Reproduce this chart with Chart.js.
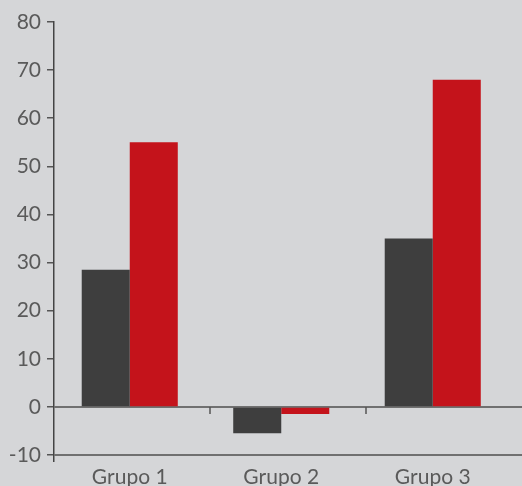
<!DOCTYPE html>
<html>
<head>
<meta charset="utf-8">
<script src="https://cdn.jsdelivr.net/npm/chart.js@4/dist/chart.umd.min.js"></script>
<style>
  html, body { margin: 0; padding: 0; background: #d5d6d8; }
  #wrap { width: 522px; height: 486px; }
</style>
</head>
<body>
<div id="wrap"><canvas id="c" width="522" height="486"></canvas></div>
<script>
const categories = ['Grupo 1', 'Grupo 2', 'Grupo 3'];
const seriesA = [28.5, -5.5, 35];
const seriesB = [55, -1.5, 68];
const yMin = -10, yMax = 80, yStep = 10;

const FONT = { family: 'Lato', size: 21, weight: 400 };
const TEXT_GREY = '#5a5a5a';
const LINE_GREY = '#707070';

// Zero line and bottom rule run to the right edge of the canvas;
// small tick marks hang below the zero line, splitting the full width in thirds.
const axisRules = {
  id: 'axisRules',
  beforeDatasetsDraw(chart) {
    const { ctx, chartArea, scales: { y } } = chart;
    const y0 = y.getPixelForValue(0);
    ctx.save();
    ctx.strokeStyle = LINE_GREY;
    ctx.lineWidth = 2;
    ctx.beginPath();
    ctx.moveTo(chartArea.left, y0);
    ctx.lineTo(chart.width, y0);
    ctx.moveTo(chartArea.left, chartArea.bottom);
    ctx.lineTo(chart.width, chartArea.bottom);
    ctx.stroke();
    ctx.restore();
  },
  afterDatasetsDraw(chart) {
    const { ctx, chartArea, scales: { y } } = chart;
    const y0 = y.getPixelForValue(0);
    const n = categories.length;
    const step = (chart.width - chartArea.left) / n;
    ctx.save();
    ctx.strokeStyle = '#555';
    ctx.lineWidth = 1.5;
    for (let i = 1; i < n; i++) {
      const px = chartArea.left + i * step;
      ctx.beginPath();
      ctx.moveTo(px, y0);
      ctx.lineTo(px, y0 + 7);
      ctx.stroke();
    }
    ctx.restore();
  }
};

new Chart(document.getElementById('c'), {
  type: 'bar',
  data: {
    labels: categories,
    datasets: [
      { data: seriesA, backgroundColor: '#3e3e3e', borderWidth: 0 },
      { data: seriesB, backgroundColor: '#c4131b', borderWidth: 0 }
    ]
  },
  options: {
    responsive: false,
    animation: false,
    devicePixelRatio: 1,
    layout: { padding: { top: 22, right: 13.5, left: 0, bottom: 0 } },
    plugins: { legend: { display: false }, tooltip: { enabled: false } },
    datasets: { bar: { categoryPercentage: 0.634, barPercentage: 1 } },
    scales: {
      x: {
        grid: {
          drawOnChartArea: false,
          tickLength: 7,
          tickColor: (c) => c.index === 0 ? '#444' : 'transparent',
          lineWidth: 1.5
        },
        border: { display: false },
        ticks: { color: TEXT_GREY, padding: 3, font: FONT },
        afterFit(s) { s.height = 31; }
      },
      y: {
        min: yMin, max: yMax,
        ticks: { stepSize: yStep, color: TEXT_GREY, padding: 6, font: FONT },
        grid: {
          drawOnChartArea: false,
          tickColor: '#555',
          tickLength: 7,
          lineWidth: 1.5
        },
        border: { display: true, color: '#444', width: 1.5 },
        afterFit(s) { s.width = 54; }
      }
    }
  },
  plugins: [axisRules]
});
</script>
</body>
</html>
